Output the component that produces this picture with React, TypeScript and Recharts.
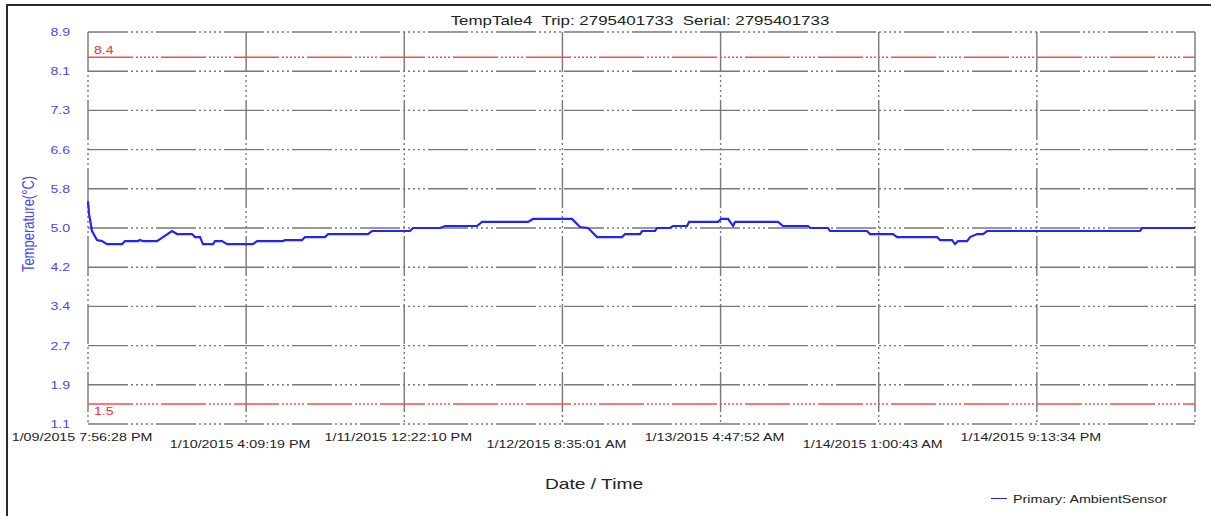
import React from 'react';
import { LineChart, Line, XAxis, YAxis, CartesianGrid, ReferenceLine } from 'recharts';

const chartTitle = 'TempTale4  Trip: 2795401733  Serial: 2795401733';
const seriesName = 'Primary: AmbientSensor';
const yAxisTitle = 'Temperature(°C)';
const xAxisTitle = 'Date / Time';

// hours elapsed since the first reading (1/09/2015 7:56:28 PM)
const elapsedHours = [
  0, 0.13, 0.51, 1.15, 1.79, 2.43, 4.35, 4.73, 6.39, 6.65, 7.03, 8.82, 9.2, 10.74, 11.38, 13.29,
  13.68, 14.32, 14.7, 15.98, 16.23, 17.13, 17.77, 21.09, 21.6, 24.93, 25.18, 27.36, 27.74, 30.3,
  30.68, 35.79, 36.3, 41.16, 41.54, 45.0, 45.64, 49.73, 50.37, 56.25, 56.88, 61.87, 62.89, 63.92,
  65.07, 68.26, 68.65, 70.56, 70.82, 72.48, 72.74, 74.4, 74.78, 76.57, 76.83, 80.53, 80.92, 81.81,
  82.45, 82.71, 88.2, 88.84, 92.04, 92.29, 94.59, 94.85, 99.58, 99.96, 102.9, 103.41, 108.53,
  108.91, 110.44, 110.83, 111.21, 112.36, 112.75, 113.64, 114.41, 114.92, 134.48, 134.73, 141.5,
];

const temps = [
  5.53, 5.28, 4.94, 4.76, 4.74, 4.68, 4.68, 4.74, 4.74, 4.76, 4.74, 4.74, 4.78, 4.94, 4.88, 4.88,
  4.82, 4.82, 4.68, 4.68, 4.74, 4.74, 4.68, 4.68, 4.74, 4.74, 4.76, 4.76, 4.82, 4.82,
  4.88, 4.88, 4.94, 4.94, 5.0, 5.0, 5.04, 5.04, 5.12, 5.12, 5.18, 5.18, 5.02, 5.0,
  4.82, 4.82, 4.88, 4.88, 4.94, 4.94, 5.0, 5.0, 5.04, 5.04, 5.12, 5.12, 5.18, 5.18,
  5.04, 5.12, 5.12, 5.04, 5.04, 5.0, 5.0, 4.94, 4.94, 4.88, 4.88, 4.82, 4.82,
  4.76, 4.76, 4.68, 4.74, 4.74, 4.82, 4.88, 4.88, 4.94, 4.94, 5.0, 5.0,
];

const xTicks = [0, 20.214, 40.428, 60.643, 80.857, 101.071, 121.285, 141.5];
const xTickLabels = [
  '1/09/2015 7:56:28 PM',
  '1/10/2015 4:09:19 PM',
  '1/11/2015 12:22:10 PM',
  '1/12/2015 8:35:01 AM',
  '1/13/2015 4:47:52 AM',
  '1/14/2015 1:00:43 AM',
  '1/14/2015 9:13:34 PM',
  '',
];
const yTicks = [1.1, 1.88, 2.66, 3.44, 4.22, 5.0, 5.78, 6.56, 7.34, 8.12, 8.9];
const upperLimit = 8.4;
const lowerLimit = 1.5;

const data = elapsedHours.map((h, i) => ({ h, temp: temps[i] }));

const FONT = 'Arial, "Liberation Sans", sans-serif';
const STRETCH = 1.28;
const gridDash = '40 3 2 3 2 3 2 3 2 3 2 3';
const limitDash = '45 3 2 2 2 2 2 2 2 2 2 2 2 3';

function XTick(props: any) {
  const { x, y, payload } = props;
  const i = xTicks.indexOf(payload.value);
  const label = xTickLabels[i] ?? '';
  const dy = i % 2 === 0 ? 17 : 24;
  return (
    <g transform={`translate(${x - 6},${y + dy}) scale(1.3,1)`}>
      <text textAnchor="middle" fontSize={11} fontFamily={FONT} fill="#1e1e1e">
        {label}
      </text>
    </g>
  );
}

function YTick(props: any) {
  const { x, y, payload } = props;
  return (
    <g transform={`translate(${x},${y + 4}) scale(${STRETCH},1)`}>
      <text textAnchor="end" fontSize={11} fontFamily={FONT} fill="#4646ff">
        {Number(payload.value).toFixed(1)}
      </text>
    </g>
  );
}

const limitLabel = (value: number, above: boolean) => (props: any) => {
  const vb = props.viewBox || { x: 88, y: 0 };
  return (
    <g transform={`translate(${vb.x + 6},${vb.y + (above ? -3 : 11)}) scale(${STRETCH},1)`}>
      <text fontSize={11} fontFamily={FONT} fill="#ff2a2a">
        {value.toFixed(1)}
      </text>
    </g>
  );
};

const stretched = (origin: string): React.CSSProperties => ({
  position: 'absolute',
  fontFamily: FONT,
  whiteSpace: 'pre',
  lineHeight: 1,
  transformOrigin: origin,
});

export default function App() {
  return (
    <div
      style={{
        position: 'absolute',
        left: 0,
        top: 0,
        width: 1211,
        height: 516,
        overflow: 'hidden',
        background: '#fff',
      }}
    >
      <div
        style={{
          position: 'absolute',
          left: 6,
          top: 4,
          width: 1240,
          height: 600,
          borderTop: '2px solid #2a2a2a',
          borderLeft: '2px solid #2a2a2a',
        }}
      />
      <LineChart
        width={1211}
        height={516}
        data={data}
        margin={{ top: 32, right: 16, bottom: 62, left: 8 }}
        style={{ position: 'absolute', left: 0, top: 0 }}
      >
        <CartesianGrid stroke="#777" strokeWidth={1.4} strokeDasharray={gridDash} />
        <XAxis
          type="number"
          dataKey="h"
          domain={[0, 141.5]}
          ticks={xTicks}
          interval={0}
          axisLine={false}
          tickLine={false}
          tickSize={0}
          tickMargin={0}
          height={30}
          tick={<XTick />}
        />
        <YAxis
          type="number"
          domain={[1.1, 8.9]}
          ticks={yTicks}
          interval={0}
          axisLine={false}
          tickLine={false}
          tickSize={0}
          tickMargin={18}
          width={80}
          tick={<YTick />}
        />
        <ReferenceLine
          y={upperLimit}
          stroke="#ff4b4b"
          strokeWidth={1.5}
          strokeDasharray={limitDash}
          label={{ content: limitLabel(upperLimit, true) }}
        />
        <ReferenceLine
          y={lowerLimit}
          stroke="#ff4b4b"
          strokeWidth={1.5}
          strokeDasharray={limitDash}
          label={{ content: limitLabel(lowerLimit, false) }}
        />
        <Line
          type="linear"
          dataKey="temp"
          stroke="#2323ff"
          strokeWidth={2.2}
          dot={false}
          isAnimationActive={false}
        />
      </LineChart>

      <div
        style={{
          ...stretched('center'),
          left: 640,
          top: 20,
          fontSize: 13,
          color: '#222',
          transform: `translate(-50%,-50%) scaleX(1.3)`,
        }}
      >
        {chartTitle}
      </div>

      <div
        style={{
          ...stretched('center'),
          left: 28,
          top: 224,
          fontSize: 13,
          color: '#4646ff',
          transform: `translate(-50%,-50%) scaleX(${STRETCH}) rotate(-90deg)`,
        }}
      >
        {yAxisTitle}
      </div>

      <div
        style={{
          ...stretched('center'),
          left: 594,
          top: 483,
          fontSize: 15,
          color: '#222',
          transform: `translate(-50%,-50%) scaleX(${STRETCH})`,
        }}
      >
        {xAxisTitle}
      </div>

      <div
        style={{
          position: 'absolute',
          left: 991,
          top: 498,
          width: 16,
          height: 0,
          borderTop: '1.5px solid #2323ff',
        }}
      />
      <div
        style={{
          ...stretched('left center'),
          left: 1013,
          top: 499,
          fontSize: 11,
          color: '#222',
          transform: `translateY(-50%) scaleX(1.3)`,
        }}
      >
        {seriesName}
      </div>
    </div>
  );
}
